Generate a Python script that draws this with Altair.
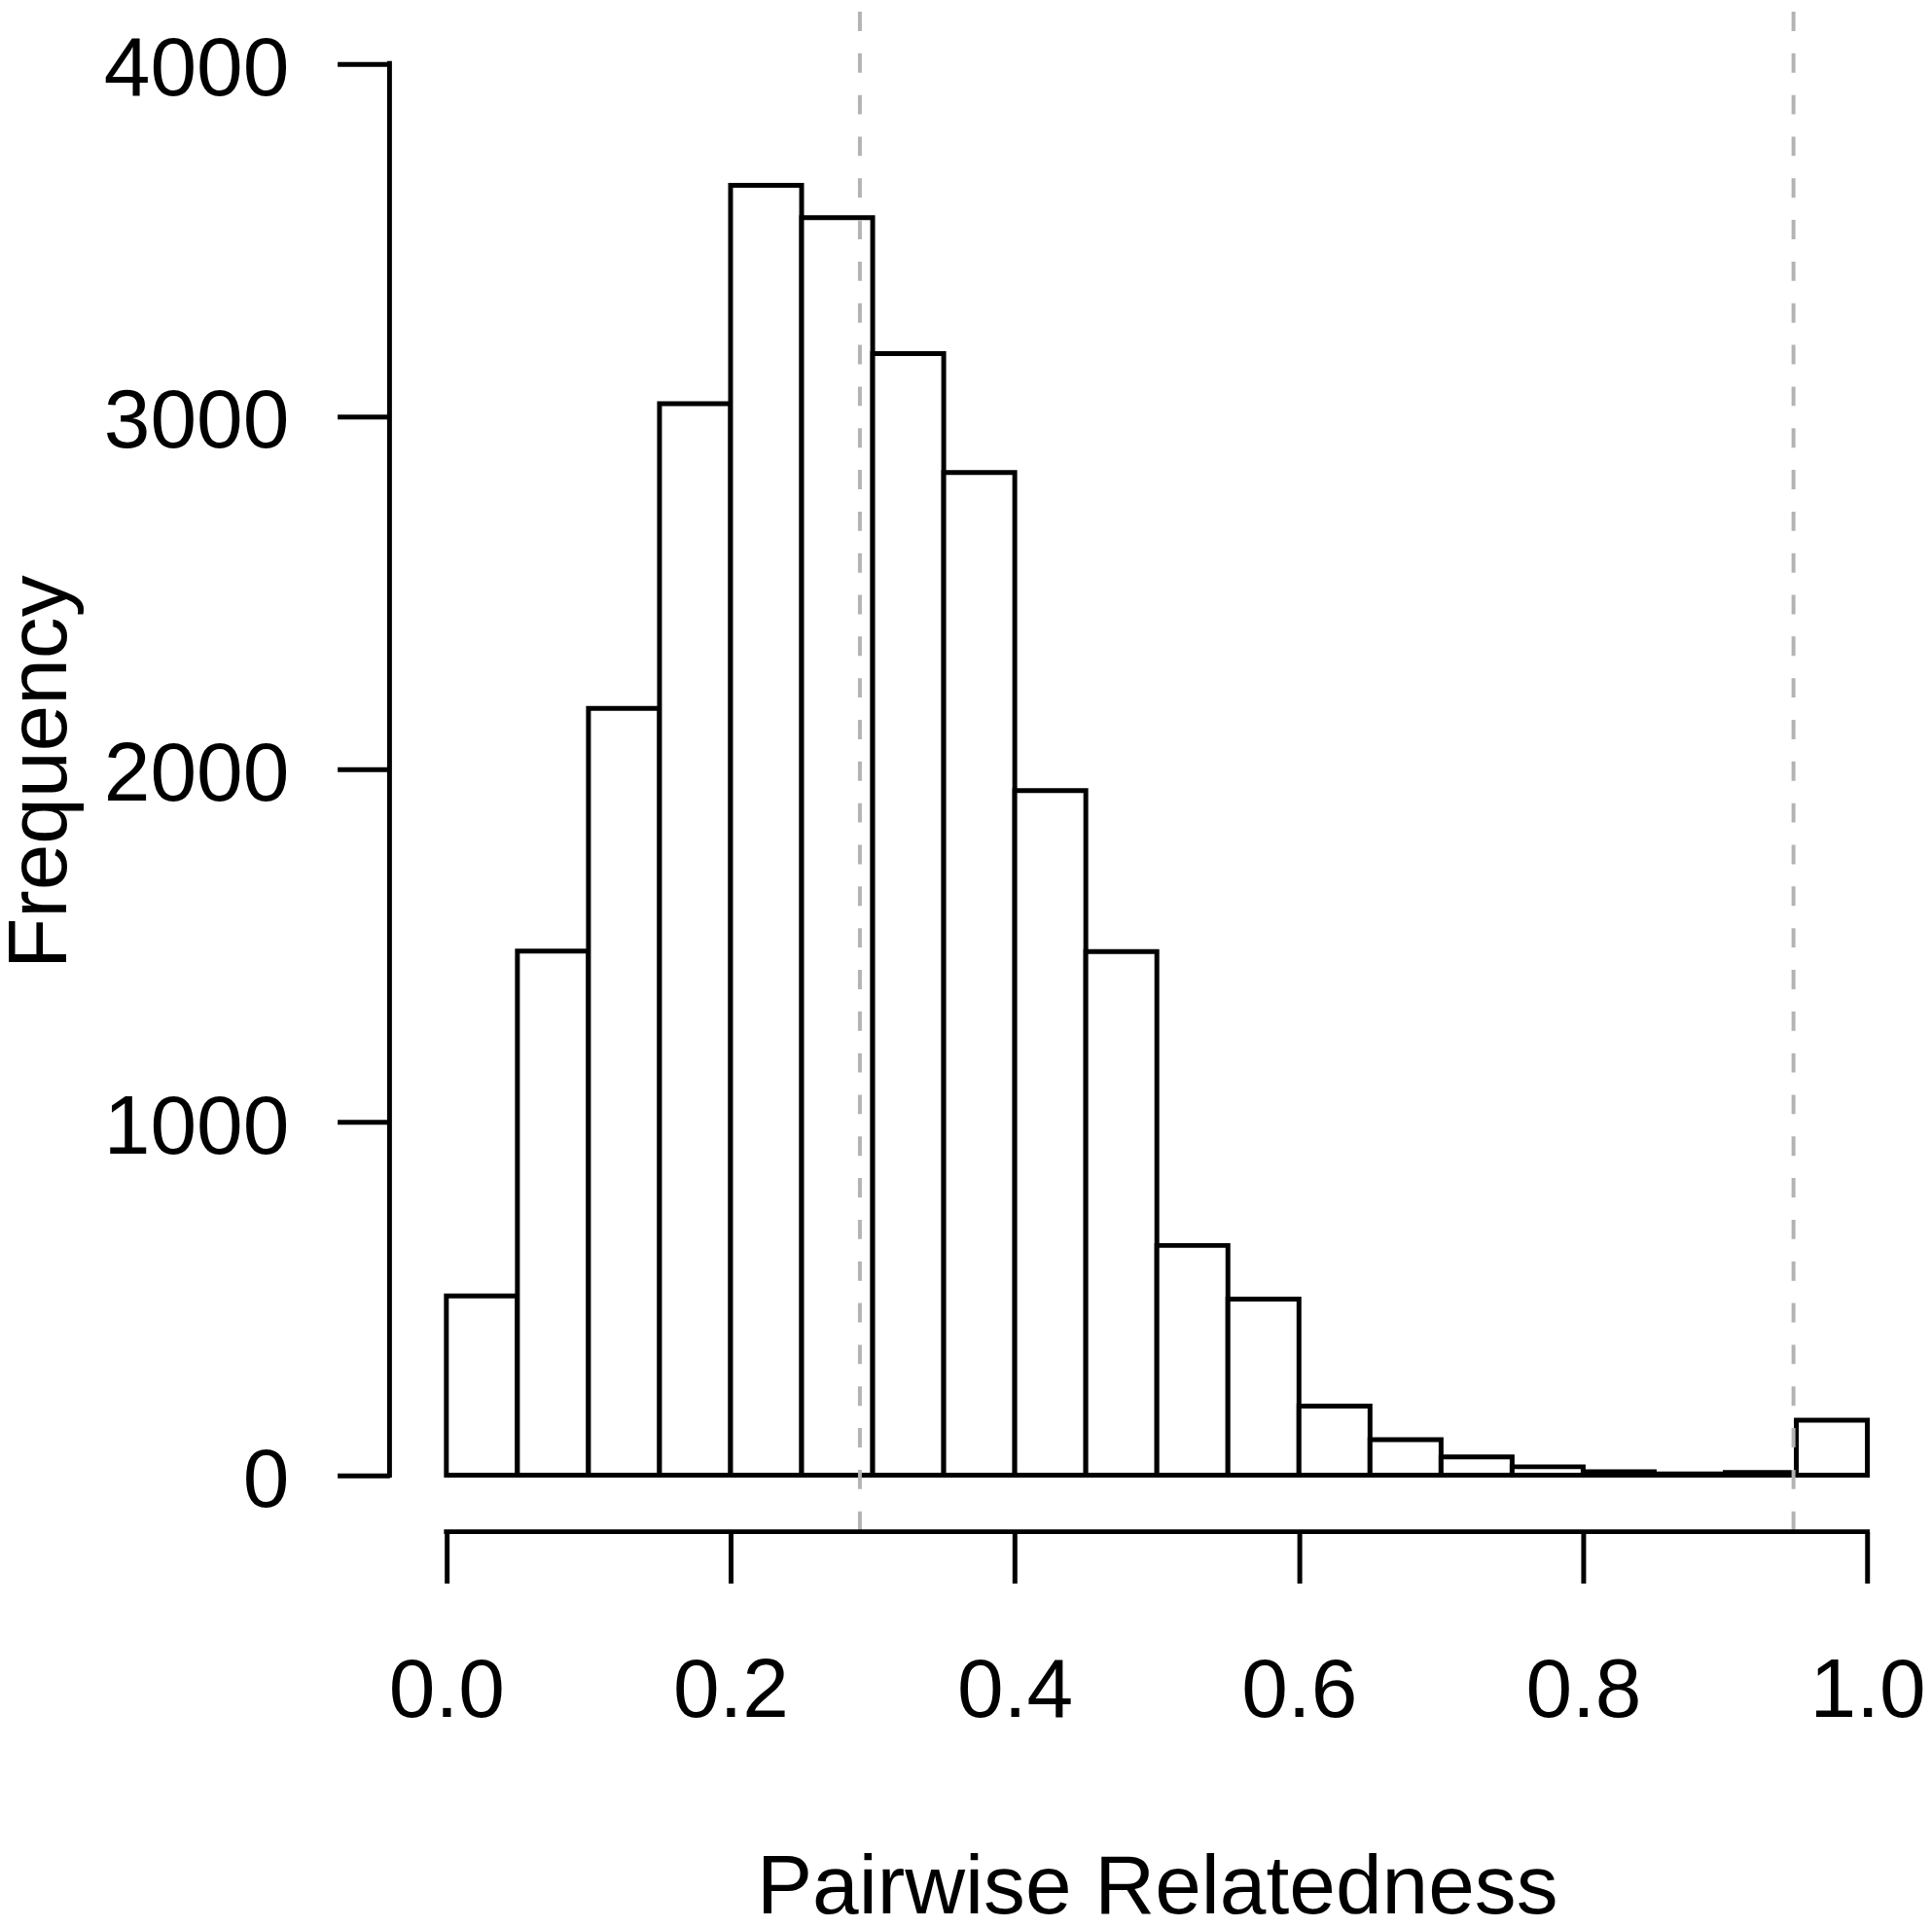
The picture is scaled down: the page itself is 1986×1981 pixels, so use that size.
import altair as alt
import pandas as pd

# ---- data ----
bin_start = [0.00, 0.05, 0.10, 0.15, 0.20, 0.25, 0.30, 0.35, 0.40, 0.45,
             0.50, 0.55, 0.60, 0.65, 0.70, 0.75, 0.80, 0.85, 0.90, 0.95]
counts = [508, 1485, 2173, 3036, 3655, 3563, 3178, 2841, 1940, 1484,
          651, 499, 196, 101, 52, 24, 10, 4, 8, 156]
bin_width = 0.05
cutoffs = [0.291, 0.948]
x_ticks = [0.0, 0.2, 0.4, 0.6, 0.8, 1.0]
y_ticks = [0, 1000, 2000, 3000, 4000]
x_domain = [-0.04, 1.04]
y_domain = [-160, 4147]

df = pd.DataFrame({
    "start": bin_start,
    "end": [round(s + bin_width, 2) for s in bin_start],
    "count": counts,
})

FONT = "Liberation Sans"
FS = 86
LW = 5

xs = alt.Scale(domain=x_domain, nice=False, zero=False)
ys = alt.Scale(domain=y_domain, nice=False, zero=False)

x_axis = alt.Axis(
    values=x_ticks, format=".1f", domain=False, grid=False,
    ticks=True, tickSize=53, tickWidth=LW, tickColor="black",
    labelFontSize=FS, labelColor="black", labelPadding=70,
    labelFlush=False, labelOverlap=False, labelFont=FONT, labelLimit=0,
    title="Pairwise Relatedness", titleFontSize=FS, titleFont=FONT,
    titleFontWeight="normal", titleColor="black", titleLimit=0,
    titleY=393, titleBaseline="alphabetic")

y_axis = alt.Axis(
    values=y_ticks, format="d", domain=False, grid=False,
    ticks=True, tickSize=54, tickWidth=LW, tickColor="black",
    labelFontSize=FS, labelColor="black", labelPadding=50,
    labelAlign="right", labelBaseline="alphabetic", labelOffset=32,
    labelOverlap=False, labelFont=FONT, labelLimit=0,
    title="Frequency", titleFontSize=FS, titleFont=FONT,
    titleFontWeight="normal", titleColor="black", titleLimit=0,
    titleX=-334, titleBaseline="alphabetic")

bars = alt.Chart(df).mark_rect(
    fill="white", stroke="black", strokeWidth=LW, strokeJoin="miter"
).encode(
    x=alt.X("start:Q", scale=xs, axis=x_axis),
    x2="end:Q",
    y=alt.Y("count:Q", scale=ys, axis=y_axis),
    y2=alt.datum(0),
)

# axis lines (R style: spanning the tick range only)
yaxis_df = pd.DataFrame({"x": [x_domain[0]], "y": [y_ticks[0]], "y2": [y_ticks[-1]]})
yaxis_line = alt.Chart(yaxis_df).mark_rule(
    color="black", strokeWidth=LW, strokeCap="square"
).encode(
    x=alt.X("x:Q", scale=xs, axis=x_axis),
    y=alt.Y("y:Q", scale=ys, axis=y_axis),
    y2="y2:Q",
)

xaxis_df = pd.DataFrame({"y": [y_domain[0]], "x": [x_ticks[0]], "x2": [x_ticks[-1]]})
xaxis_line = alt.Chart(xaxis_df).mark_rule(
    color="black", strokeWidth=LW, strokeCap="square"
).encode(
    y=alt.Y("y:Q", scale=ys, axis=y_axis),
    x=alt.X("x:Q", scale=xs, axis=x_axis),
    x2="x2:Q",
)

cut_df = pd.DataFrame({"cut": cutoffs})
cut_lines = alt.Chart(cut_df).mark_rule(
    color="#b3b3b3", strokeWidth=4, strokeDash=[20, 23]
).encode(
    x=alt.X("cut:Q", scale=xs, axis=x_axis),
)

chart = alt.layer(bars, cut_lines, yaxis_line, xaxis_line).properties(
    width=1584,
    height=1569,
    autosize=alt.AutoSizeParams(type="none"),
    padding={"left": 394, "top": 0, "right": 0, "bottom": 396},
    background="white",
).configure(font=FONT).configure_view(stroke=None)

chart.save("out.html", embed_options={"renderer": "svg", "actions": False})
